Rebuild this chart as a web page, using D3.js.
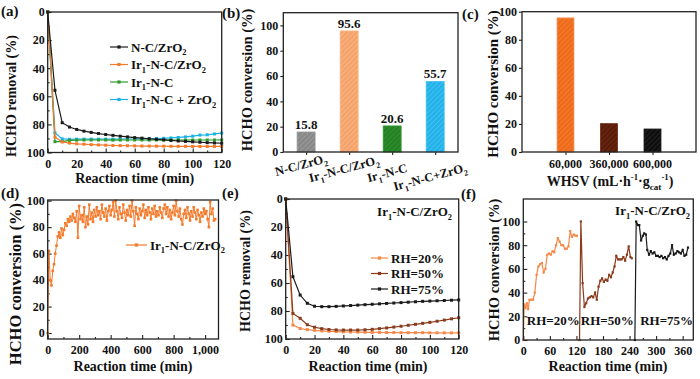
<!DOCTYPE html>
<html>
<head>
<meta charset="utf-8">
<script src="https://cdn.jsdelivr.net/npm/d3@7"></script>
<style>
body { margin: 0; background: #fff; }
svg { font-family: "Liberation Serif", "Times New Roman", serif; font-weight: bold; }
</style>
</head>
<body>
<svg id="fig" width="700" height="379"></svg>
<script>
// ---- data ----
// (a) HCHO removal vs time
var timeA = [0,5,10,15,20,25,30,35,40,45,50,55,60,65,70,75,80,85,90,95,100,105,110,115,120];
var remNcZrO2 = [0,55.7,78.8,81.9,83.6,84.8,85.7,86.5,87.2,87.8,88.4,88.9,89.4,89.8,90.2,90.6,91,91.4,91.8,92.1,92.4,92.7,93,93.2,93.4];
var remIrNcZrO2 = [0,89,92.5,93.3,93.8,94.1,94.4,94.6,94.8,95,95.1,95.2,95.3,95.4,95.4,95.5,95.5,95.6,95.6,95.6,95.7,95.7,95.7,95.7,95.7];
var remIrNc = [0,92.3,92.2,91.4,91.2,91.1,91.1,91.1,91.1,91.2,91.1,91.1,91.1,91.1,91.2,91.1,91.1,91.1,91.1,91.2,91.1,91.1,91.1,91.1,91];
var remIrNcPlus = [0,86,90.3,90.6,90.5,90.5,90.5,90.5,90.5,90.5,90.5,90.4,90.4,90.3,90.2,90.1,89.9,89.6,89.3,88.9,88.4,87.6,87.4,86.8,86.2];
var namesA = ["N-C/ZrO_{2}", "Ir_{1}-N-C/ZrO_{2}", "Ir_{1}-N-C", "Ir_{1}-N-C + ZrO_{2}"];

// (b) conversion per catalyst
var catsB = ["N-C/ZrO_{2}", "Ir_{1}-N-C/ZrO_{2}", "Ir_{1}-N-C", "Ir_{1}-N-C+ZrO_{2}"];
var convB = [15.8, 95.6, 20.6, 55.7];

// (c) conversion vs WHSV
var catsC = ["60,000", "360,000", "600,000"];
var convC = [95.6, 20.2, 16.4];

// (d) long-run conversion, one reading every 8 min
var stepD = 8;
var convD = [0,62,40,36,47,52,60,66,73,76,72,79,74,78,83,81,86,84,88,85,90,87,84,92,72,96,86,89,84,95,80,88,82,97,86,91,84,93,88,95,89,92,86,97,91,88,94,85,92,96,89,93,99,88,100,92,86,95,90,87,97,91,85,93,89,96,88,100,92,81,95,90,86,94,89,92,97,87,93,89,95,91,86,94,90,96,88,92,89,95,91,87,94,97,90,95,88,93,86,91,96,89,100,92,88,94,86,82,90,93,87,95,90,85,92,88,95,91,86,93,89,84,91,88,94,90,92,86,80,99,90,94,85,86];

// (e) removal at three humidities
var rh20 = [0,90,92.5,93.3,93.8,94.2,94.5,94.7,94.9,95,95.1,95.2,95.3,95.3,95.4,95.4,95.5,95.5,95.5,95.5,95.6,95.6,95.6,95.6,95.6];
var rh50 = [0,81.7,85.2,89.8,91.6,92.6,93.2,93.5,93.6,93.6,93.6,93.4,93.1,92.6,92.1,91.5,90.9,90.2,89.5,88.8,88.1,87.3,86.5,85.6,84.8];
var rh75 = [0,55.5,68.6,74.5,76.6,76.9,76.9,76.7,76.4,76.1,75.8,75.5,75.2,74.9,74.6,74.3,74,73.7,73.4,73.1,72.9,72.7,72.5,72.3,72.1];
var namesE = ["RH=20%", "RH=50%", "RH=75%"];

// (f) conversion with humidity switching
var timeF20 = [0,2,5,8,11,14,18,22,26,30,34,38,42,46,50,54,58,62,66,70,74,78,82,86,90,94,98,102,106,110,114,118,121];
var convF20 = [0,30,27,31,26,34,34,34,40,55,62,64,65,57,60,72,73,72,75,74,80,86,83,80,80,77,77,79,92,87,89,88,88];
var timeF50 = [127,130,134,138,142,146,150,154,158,162,166,170,174,178,182,186,190,194,198,202,206,210,214,218,222,226,230,234,238,242,245];
var convF50 = [0,100,48,28,31,35,36,37,36,40,34,45,50,52,49,51,50,55,53,57,62,71,68,68,68,70,67,72,79,70,69];
var timeF75 = [252,255,259,262,266,270,273,277,280,284,288,292,296,300,304,308,312,316,320,324,328,332,336,340,344,348,352,356,360,364,368,372];
var convF75 = [0,100,97,97,84,88,90,89,76,72,75,73,74,71,71,70,71,69,70,68,71,73,80,72,73,75,74,73,76,71,72,78];
var labelsF = [[8, "RH=20%"], [130, "RH=50%"], [264, "RH=75%"]];

// colours
var cBlack = "#1a1a1a", cOrange = "#f47a2c", cGreen = "#2e9a2e", cCyan = "#1ab2e6";
var cLight = "#f5894a", cBrown = "#8a3b1c";

var svg = d3.select("#fig");
var FONT = '"Liberation Serif", "Times New Roman", serif';

// plot boxes
var boxA = {l: 47.7, r: 221.7, t: 12, b: 152.5};
var boxB = {l: 283.3, r: 458, t: 12.7, b: 152};
var boxC = {l: 522, r: 696, t: 11.7, b: 152};
var boxD = {l: 47.7, r: 218.5, t: 200, b: 339};
var boxE = {l: 285.7, r: 458.7, t: 199, b: 339};
var boxF = {l: 523.3, r: 693.3, t: 199, b: 340};

// text with _{sub} and ^{sup}
function rich(sel, str, size) {
    var parts = str.match(/_\{[^}]*\}|\^\{[^}]*\}|[^_^]+/g);
    var cur = 0;
    parts.forEach(function(p) {
        var shift = 0, txt = p, fs = size;
        if (p[0] == "_") { shift = size * 0.3; txt = p.slice(2, -1); fs = size * 0.65; }
        else if (p[0] == "^") { shift = -size * 0.4; txt = p.slice(2, -1); fs = size * 0.62; }
        sel.append("tspan").attr("dy", shift - cur).attr("font-size", fs).text(txt);
        cur = shift;
    });
    return sel;
}

function label(x, y, str, size, anchor, rot) {
    var t = svg.append("text")
        .attr("font-size", size)
        .attr("font-family", FONT)
        .attr("font-weight", "bold")
        .attr("fill", "#111")
        .attr("text-anchor", anchor || "start");
    if (rot) t.attr("transform", "translate(" + x + "," + y + ") rotate(" + rot + ")");
    else t.attr("x", x).attr("y", y);
    return rich(t, str, size);
}

function axisStyle(g) {
    g.attr("font-size", null).attr("font-family", null);
    g.select(".domain").remove();
    g.selectAll("text").attr("font-size", 12).attr("font-family", FONT).attr("font-weight", "bold").attr("fill", "#111");
    g.selectAll("line").attr("stroke", "#222").attr("stroke-width", 1.1);
}

function axes(box, x, y, o) {
    var inS = o.inward ? -4 : 3, inM = o.inward ? -2 : 2;
    var bx = d3.axisBottom(x).tickSize(inS).tickPadding(o.inward ? 6.5 : 4);
    if (o.xt) bx.tickValues(o.xt);
    if (o.xfmt) bx.tickFormat(o.xfmt);
    svg.append("g").attr("transform", "translate(0," + box.b + ")").call(bx).call(axisStyle);
    if (o.xm) svg.append("g").attr("transform", "translate(0," + box.b + ")")
        .call(d3.axisBottom(x).tickValues(o.xm).tickSize(inM).tickFormat("")).call(axisStyle);
    svg.append("g").attr("transform", "translate(" + box.l + ",0)")
        .call(d3.axisLeft(y).tickValues(o.yt).tickSize(inS).tickPadding(o.inward ? 3 : 2)).call(axisStyle);
    if (o.ym) svg.append("g").attr("transform", "translate(" + box.l + ",0)")
        .call(d3.axisLeft(y).tickValues(o.ym).tickSize(inM).tickFormat("")).call(axisStyle);
}

function frame(box) {
    svg.append("rect")
        .attr("x", box.l).attr("y", box.t)
        .attr("width", box.r - box.l).attr("height", box.b - box.t)
        .attr("fill", "none").attr("stroke", "#222").attr("stroke-width", 1.3);
}

function series(xs, ys, x, y, color, sym, lw) {
    var pts = xs.map(function(t, i) { return [t, ys[i]]; });
    svg.append("path").datum(pts)
        .attr("d", d3.line().x(function(d) { return x(d[0]); }).y(function(d) { return y(d[1]); }))
        .attr("fill", "none").attr("stroke", color).attr("stroke-width", lw || 1.2);
    svg.append("g").selectAll("rect").data(pts).join("rect")
        .attr("x", function(d) { return x(d[0]) - sym / 2; })
        .attr("y", function(d) { return y(d[1]) - sym / 2; })
        .attr("width", sym).attr("height", sym)
        .attr("fill", color);
}

function legendRow(x0, yc, len, color, txt, size) {
    svg.append("line").attr("x1", x0).attr("x2", x0 + len).attr("y1", yc).attr("y2", yc)
        .attr("stroke", color).attr("stroke-width", 1.2);
    svg.append("rect").attr("x", x0 + len / 2 - 1.6).attr("y", yc - 1.6).attr("width", 3.2).attr("height", 3.2).attr("fill", color);
    label(x0 + len + 3, yc + 4.5, txt, size || 13);
}

// hatch patterns for bars
var defs = svg.append("defs");
function hatch(id, base, line) {
    var p = defs.append("pattern").attr("id", id)
        .attr("patternUnits", "userSpaceOnUse").attr("width", 3.5).attr("height", 3.5)
        .attr("patternTransform", "rotate(45)");
    p.append("rect").attr("width", 3.5).attr("height", 3.5).attr("fill", base);
    p.append("line").attr("x1", 0).attr("y1", 0).attr("x2", 0).attr("y2", 3.5)
        .attr("stroke", line).attr("stroke-width", 1);
    return "url(#" + id + ")";
}
var fillsB = [hatch("hb0", "#888", "#a8a8a8"), hatch("hb1", "#f5a36b", "#f9c49c"),
              hatch("hb2", "#2a8a2a", "#1b661b"), hatch("hb3", "#22b3ea", "#62caf1")];
var edgeB = ["#9a9a9a", "#f8b98a", "#3a9a3a", "#45c0ee"];
var fillsC = [hatch("hc0", "#ef6b1c", "#f58d45"), hatch("hc1", "#5a1c0a", "#7a3216"), hatch("hc2", "#0e0e0e", "#333")];

// ---------- (a) ----------
var xA = d3.scaleLinear().domain([0, 120]).range([boxA.l, boxA.r]);
var yA = d3.scaleLinear().domain([0, 100]).range([boxA.t, boxA.b]);
axes(boxA, xA, yA, {inward: true, xt: d3.range(0, 121, 20), xm: d3.range(10, 120, 20),
                    yt: d3.range(0, 101, 20), ym: d3.range(10, 100, 20)});
series(timeA, remIrNcPlus, xA, yA, cCyan, 3);
series(timeA, remIrNc, xA, yA, cGreen, 3);
series(timeA, remIrNcZrO2, xA, yA, cOrange, 3);
series(timeA, remNcZrO2, xA, yA, cBlack, 3);
frame(boxA);
[cBlack, cOrange, cGreen, cCyan].forEach(function(c, i) {
    legendRow(110, 47 + i * 17.5, 18, c, namesA[i]);
});
label(134.7, 183, "Reaction time (min)", 14, "middle");
label(16, 96, "HCHO removal (%)", 14, "middle", -90);
label(1, 16, "(a)", 15);

// ---------- (b) ----------
var xB = d3.scalePoint().domain(catsB).range([boxB.l, boxB.r]).padding(0.53);
var yB = d3.scaleLinear().domain([0, 110]).range([boxB.b, boxB.t]);
axes(boxB, xB, yB, {xfmt: function() { return ""; }, yt: d3.range(0, 101, 20)});
var bwB = 18;
svg.append("g").selectAll("rect").data(convB).join("rect")
    .attr("x", function(d, i) { return xB(catsB[i]) - bwB / 2; })
    .attr("y", function(d) { return yB(d); })
    .attr("width", bwB)
    .attr("height", function(d) { return yB(0) - yB(d); })
    .attr("fill", function(d, i) { return fillsB[i]; })
    .attr("stroke", function(d, i) { return edgeB[i]; })
    .attr("stroke-width", 0.8);
convB.forEach(function(v, i) {
    label(xB(catsB[i]), yB(v) - 3, v.toFixed(1), 13, "middle");
    // slanted category labels, each a little lower than the previous one
    label(xB(catsB[i]) - 4, boxB.b + 17 + 4 * i, catsB[i], 12.5, "middle", -15);
});
frame(boxB);
label(252, 80, "HCHO conversion (%)", 14.5, "middle", -90);
label(222, 18, "(b)", 15);

// ---------- (c) ----------
var xC = d3.scalePoint().domain(catsC).range([boxC.l, boxC.r]).padding(1);
var yC = d3.scaleLinear().domain([0, 100]).range([boxC.b, boxC.t]);
axes(boxC, xC, yC, {xfmt: function() { return ""; }, yt: d3.range(0, 101, 20)});
var bwC = 17;
svg.append("g").selectAll("rect").data(convC).join("rect")
    .attr("x", function(d, i) { return xC(catsC[i]) - bwC / 2; })
    .attr("y", function(d) { return yC(d); })
    .attr("width", bwC)
    .attr("height", function(d) { return yC(0) - yC(d); })
    .attr("fill", function(d, i) { return fillsC[i]; })
    .attr("stroke", function(d, i) { return ["#f4a06a", "#6a2a12", "#222"][i]; })
    .attr("stroke-width", 0.8);
catsC.forEach(function(c) { label(xC(c), boxC.b + 15.5, c, 12, "middle"); });
frame(boxC);
label(610, 186, "WHSV (mL\u00b7h^{-1}\u00b7g_{cat}^{-1})", 14, "middle");
label(498, 84, "HCHO conversion (%)", 15, "middle", -90);
label(462, 19, "(c)", 15);

// ---------- (d) ----------
var xD = d3.scaleLinear().domain([0, 1085]).range([boxD.l, boxD.r]);
var yD = d3.scaleLinear().domain([-4.5, 100.5]).range([boxD.b, boxD.t]);
axes(boxD, xD, yD, {inward: true, xt: d3.range(0, 1001, 200), xm: d3.range(100, 1100, 200),
                    yt: d3.range(0, 101, 20), ym: d3.range(10, 100, 20)});
var timeD = convD.map(function(v, i) { return i * stepD; });
series(timeD, convD, xD, yD, cOrange, 2.6, 1);
frame(boxD);
legendRow(126, 245, 21, cOrange, "Ir_{1}-N-C/ZrO_{2}");
label(133, 371, "Reaction time (min)", 14, "middle");
label(21, 284, "HCHO conversion (%)", 16.5, "middle", -90);
label(1, 198, "(d)", 15);

// ---------- (e) ----------
var xE = d3.scaleLinear().domain([0, 120]).range([boxE.l, boxE.r]);
var yE = d3.scaleLinear().domain([0, 100]).range([boxE.t, boxE.b]);
axes(boxE, xE, yE, {inward: true, xt: d3.range(0, 121, 20), xm: d3.range(10, 120, 20),
                    yt: d3.range(0, 101, 20), ym: d3.range(10, 100, 20)});
series(timeA, rh20, xE, yE, cLight, 3);
series(timeA, rh50, xE, yE, cBrown, 3);
series(timeA, rh75, xE, yE, cBlack, 3);
frame(boxE);
[cLight, cBrown, cBlack].forEach(function(c, i) {
    legendRow(371, 258 + i * 15.5, 17, c, namesE[i]);
});
label(452, 216, "Ir_{1}-N-C/ZrO_{2}", 13, "end");
label(368, 371, "Reaction time (min)", 14, "middle");
label(250, 271, "HCHO removal (%)", 14, "middle", -90);
label(222, 198, "(e)", 15);

// ---------- (f) ----------
var xF = d3.scaleLinear().domain([0, 384]).range([boxF.l, boxF.r]);
var yF = d3.scaleLinear().domain([0, 119]).range([boxF.b, boxF.t]);
axes(boxF, xF, yF, {inward: true, xt: d3.range(0, 361, 60), xm: d3.range(30, 384, 60),
                    yt: d3.range(0, 101, 20), ym: d3.range(10, 110, 20)});
series(timeF20, convF20, xF, yF, cLight, 2.2, 1.2);
series(timeF50, convF50, xF, yF, cBrown, 2.2, 1.2);
series(timeF75, convF75, xF, yF, cBlack, 2.2, 1.2);
frame(boxF);
labelsF.forEach(function(d) { label(xF(d[0]), yF(13), d[1], 13); });
label(690, 215, "Ir_{1}-N-C/ZrO_{2}", 13, "end");
label(608, 371, "Reaction time (min)", 14, "middle");
label(499, 270, "HCHO conversion (%)", 14.5, "middle", -90);
label(461, 199, "(f)", 15);
</script>
</body>
</html>
